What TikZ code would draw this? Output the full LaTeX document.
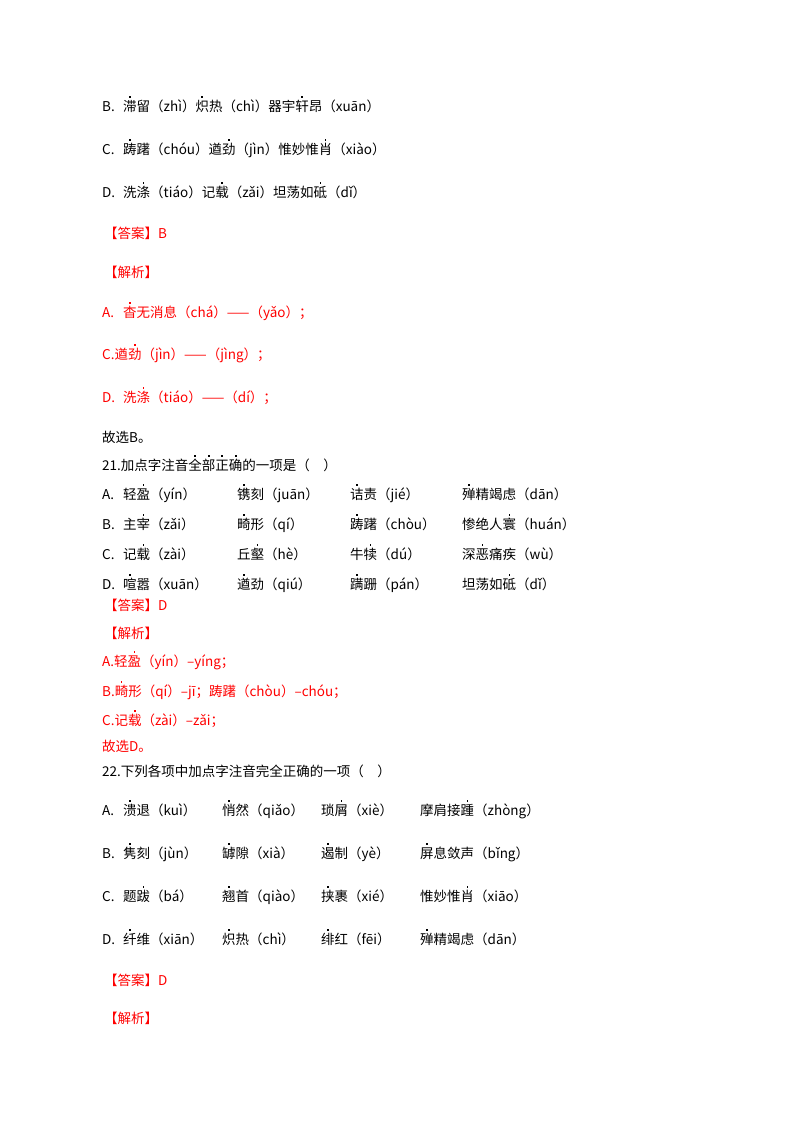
\documentclass[tikz,border=0pt]{standalone}
\usepackage{fontspec}
\setmainfont{Noto Sans CJK SC}
\newcommand{\dt}[1]{\makebox[0pt][l]{\makebox[1em]{\raisebox{1.0em}[0pt][0pt]{\rule{1.7pt}{1.7pt}}}}#1}
\definecolor{ansred}{RGB}{255,0,0}
\tikzset{t/.style={anchor=base west,inner sep=0pt,font=\fontsize{13.5}{15}\selectfont},
 r/.style={t,text=ansred}}
\begin{document}
\begin{tikzpicture}[x=1pt,y=-1pt]
\useasboundingbox (0,0) rectangle (800,1132);
% previous question
\node[t] (b1) at (102,111) {B.};
\node[t] (b1t) at (123,111) {\dt{滞}留（zhì）\dt{炽}热（chì）器宇\dt{轩}昂（xuān）};
\node[t] (c1) at (102,154) {C.};
\node[t] (c1t) at (123,154) {\dt{踌}躇（chóu）遒\dt{劲}（jìn）惟妙惟\dt{肖}（xiào）};
\node[t] (d1) at (102,197) {D.};
\node[t] (d1t) at (123,197) {洗\dt{涤}（tiáo）记\dt{载}（zǎi）坦荡如\dt{砥}（dǐ）};
\node[r] (ans1) at (104,238) {【答案】B};
\node[r] (ana1) at (104,277) {【解析】};
\node[r] (ra) at (102,317) {A.};
\node[r] (rat) at (123,317) {\dt{杳}无消息（chá）——（yǎo）；};
\node[r] (rc) at (102,359) {C.遒\dt{劲}（jìn）——（jìng）；};
\node[r] (rd) at (102,402) {D.};
\node[r] (rdt) at (123,402) {洗\dt{涤}（tiáo）——（dí）；};
\node[t] (sel1) at (102,442) {故选B。};
% question 21
\node[t] (q21) at (102,470) {21.加点字注音\dt{全}\dt{部}\dt{正}\dt{确}的一项是（\quad）};
\foreach \n/\y/\a/\b/\c/\d/\l in {
 A/499/{轻\dt{盈}（yín）}/{\dt{镌}刻（juān）}/{\dt{诘}责（jié）}/{\dt{殚}精竭虑（dān）}/A.,
 B/529/{主\dt{宰}（zǎi）}/{\dt{畸}形（qí）}/{\dt{踌}躇（chòu）}/{惨绝人\dt{寰}（huán）}/B.,
 C/559/{记\dt{载}（zài）}/{丘\dt{壑}（hè）}/{牛\dt{犊}（dú）}/{深\dt{恶}痛疾（wù）}/C.,
 D/589/{\dt{喧}嚣（xuān）}/{\dt{遒}劲（qiú）}/{\dt{蹒}跚（pán）}/{坦荡如\dt{砥}（dǐ）}/D.}{
 \node[t] (x\n) at (102,\y) {\l};
 \node[t] (xa\n) at (123,\y) {\a};
 \node[t] (xb\n) at (237,\y) {\b};
 \node[t] (xc\n) at (350,\y) {\c};
 \node[t] (xd\n) at (462,\y) {\d};
}
\node[r] (ans2) at (104,610) {【答案】D};
\node[r] (ana2) at (104,638) {【解析】};
\node[r] (r2a) at (102,666) {A.轻\dt{盈}（yín）--yíng；};
\node[r] (r2b) at (102,696) {B.\dt{畸}形（qí）--jī；踌躇（chòu）--chóu；};
\node[r] (r2c) at (102,725) {C.记\dt{载}（zài）--zǎi；};
\node[r] (sel2) at (102,751) {故选D。};
% question 22
\node[t] (q22) at (102,776) {22.下列各项中加点字注音完全正确的一项（\quad）};
\foreach \n/\y/\a/\b/\c/\d/\l in {
 A/815/{\dt{溃}退（kuì）}/{\dt{悄}然（qiǎo）}/{琐\dt{屑}（xiè）}/{摩肩接\dt{踵}（zhòng）}/A.,
 B/858/{\dt{隽}刻（jùn）}/{\dt{罅}隙（xià）}/{\dt{遏}制（yè）}/{\dt{屏}息敛声（bǐng）}/B.,
 C/901/{题\dt{跋}（bá）}/{\dt{翘}首（qiào）}/{\dt{挟}裹（xié）}/{惟妙惟\dt{肖}（xiāo）}/C.,
 D/944/{\dt{纤}维（xiān）}/{\dt{炽}热（chì）}/{\dt{绯}红（fēi）}/{\dt{殚}精竭虑（dān）}/D.}{
 \node[t] (y\n) at (102,\y) {\l};
 \node[t] (ya\n) at (123,\y) {\a};
 \node[t] (yb\n) at (222,\y) {\b};
 \node[t] (yc\n) at (321,\y) {\c};
 \node[t] (yd\n) at (420,\y) {\d};
}
\node[r] (ans3) at (104,985) {【答案】D};
\node[r] (ana3) at (104,1023) {【解析】};
\end{tikzpicture}
\end{document}
